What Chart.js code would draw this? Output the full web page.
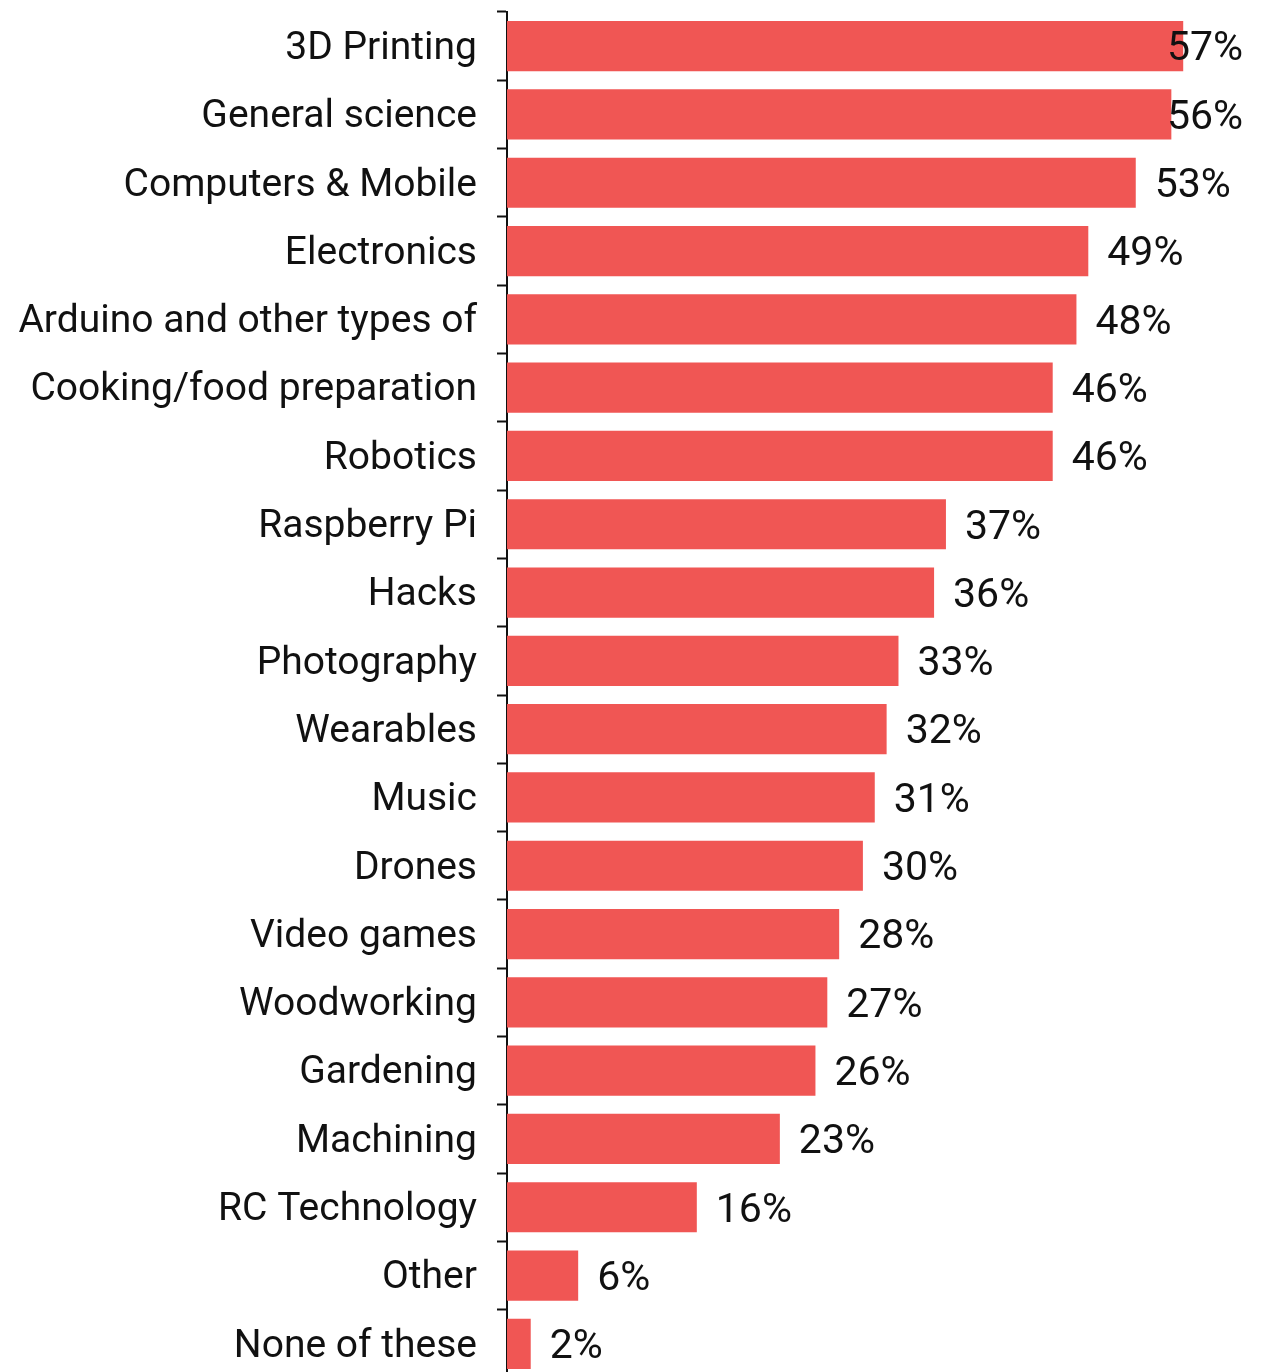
<!DOCTYPE html>
<html>
<head>
<meta charset="utf-8">
<script src="https://cdn.jsdelivr.net/npm/chart.js@4"></script>
<style>
  html, body { margin: 0; padding: 0; background: #fff; overflow: hidden; }
  canvas { display: block; }
</style>
</head>
<body>
<canvas id="grafica" width="1271" height="1380"></canvas>
<script>
// categorías y porcentajes
const temas = ['3D Printing', 'General science', 'Computers & Mobile', 'Electronics',
  'Arduino and other types of', 'Cooking/food preparation', 'Robotics', 'Raspberry Pi',
  'Hacks', 'Photography', 'Wearables', 'Music', 'Drones', 'Video games', 'Woodworking',
  'Gardening', 'Machining', 'RC Technology', 'Other', 'None of these'];
const porcentajes = [57, 56, 53, 49, 48, 46, 46, 37, 36, 33, 32, 31, 30, 28, 27, 26, 23, 16, 6, 2];

const fuente = "Roboto, 'Noto Sans', sans-serif";

// etiquetas de valor al final de cada barra (las que no caben se recortan al borde)
const etiquetasValor = {
  id: 'etiquetasValor',
  afterDatasetsDraw(chart) {
    const ctx = chart.ctx;
    const meta = chart.getDatasetMeta(0);
    ctx.save();
    ctx.font = '41px ' + fuente;
    ctx.fillStyle = '#111';
    ctx.textBaseline = 'middle';
    ctx.textAlign = 'left';
    meta.data.forEach((bar, i) => {
      const txt = porcentajes[i] + '%';
      const w = ctx.measureText(txt).width;
      const x = Math.min(bar.x + 19, 1243 - w);
      ctx.fillText(txt, x, bar.y + 4);
    });
    ctx.restore();
  }
};

new Chart(document.getElementById('grafica'), {
  type: 'bar',
  data: {
    labels: temas,
    datasets: [{
      data: porcentajes,
      backgroundColor: '#F05654',
      barPercentage: 0.735,
      categoryPercentage: 1
    }]
  },
  options: {
    indexAxis: 'y',
    responsive: false,
    animation: false,
    layout: { padding: { top: 12, bottom: 2, left: 0, right: 0 } },
    plugins: { legend: { display: false }, tooltip: { enabled: false } },
    scales: {
      x: { display: false, min: 0, max: 64.4 },
      y: {
        afterFit: s => {
          s.width = 507;
          s.paddingTop = 0;
          s.paddingBottom = 0;
        },
        grid: {
          offset: true,
          drawOnChartArea: false,
          drawTicks: true,
          tickLength: 10,
          tickWidth: 2,
          tickColor: '#111'
        },
        border: { display: true, color: '#111', width: 2 },
        ticks: {
          padding: 20,
          labelOffset: 3,
          color: '#111',
          font: { family: fuente, size: 39 }
        }
      }
    }
  },
  plugins: [etiquetasValor]
});
</script>
</body>
</html>
